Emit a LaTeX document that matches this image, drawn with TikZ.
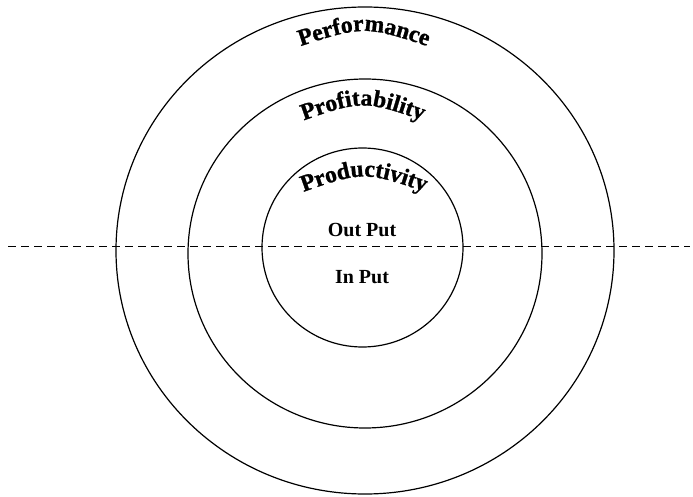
\documentclass[tikz,border=0pt]{standalone}
\usepackage{fontspec}
\setmainfont{Liberation Serif}
\newfontface\archface{Liberation Serif Bold}[FakeBold=1.2]
\usetikzlibrary{shapes.geometric,decorations.text}

\newcommand{\arcfont}{\archface\fontsize{23.5}{23.5}\selectfont}

\begin{document}
\begin{tikzpicture}[x=1pt,y=1pt,
  ring/.style={ellipse,draw,line width=1.2pt,inner sep=0pt},
  arctext/.style={decorate,decoration={text along path,text align=center,
      text format delimiters={|}{|},text={|\arcfont|#1}}},
  io/.style={font=\fontsize{20}{20}\selectfont\bfseries},
  split/.style={dash pattern=on 8pt off 5pt,line width=1pt}]

\useasboundingbox (0,0) rectangle (693,496);

\node[ring,minimum width=498,minimum height=487] (perf) at (365,245.5) {};
\node[ring,minimum width=354,minimum height=349] (prof) at (365,242.5) {};
\node[ring,minimum width=201,minimum height=199] (prod) at (362.5,248.5) {};

\path[arctext=Performance] (292,447) .. controls (364,471) .. (436,447);
\path[arctext=Profitability] (291,371) .. controls (363,397) .. (435,371);
\path[arctext=Productivity] (292,300) .. controls (364,326) .. (436,300);

\node[io] (out) at (362,266) {Out Put};
\node[io] (in) at (362,219) {In Put};

\coordinate (west) at (8,250);
\coordinate (east) at (690,250);
\draw[split] (west) -- (east);
\end{tikzpicture}
\end{document}
